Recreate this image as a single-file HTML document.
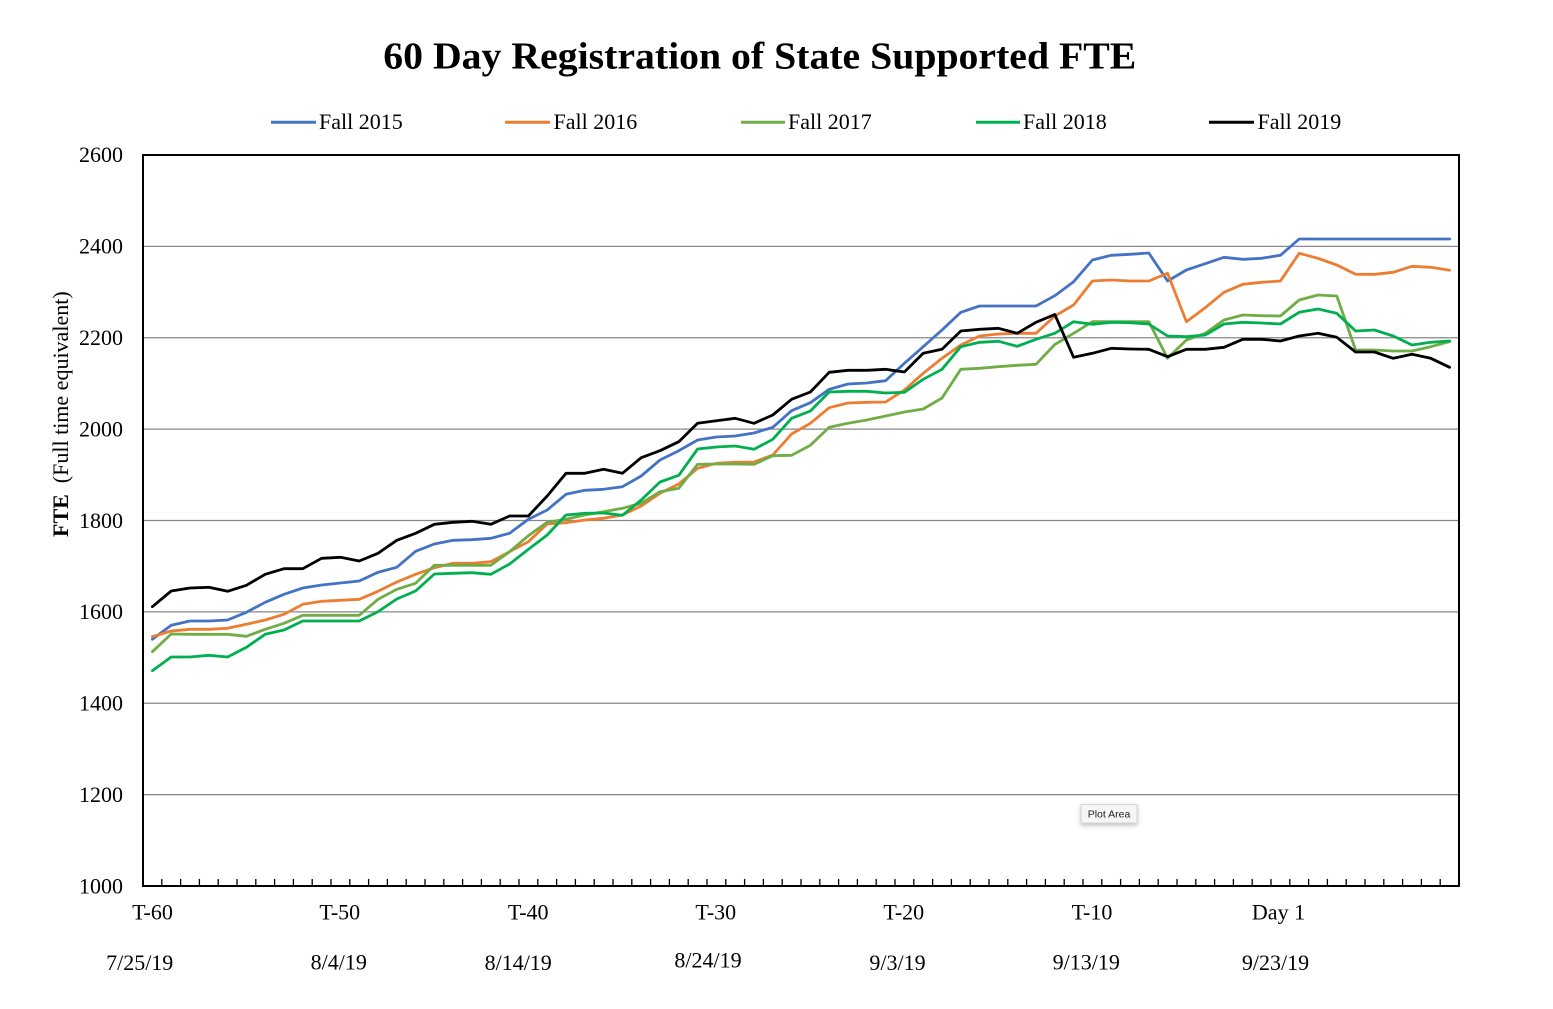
<!DOCTYPE html>
<html>
<head>
<meta charset="utf-8">
<style>
  html,body{margin:0;padding:0;background:#fff;}
  svg{display:block;}
  text{font-family:"Liberation Serif","Times New Roman",serif;fill:#000;}
</style>
</head>
<body>
<svg width="1553" height="1009" viewBox="0 0 1553 1009" xmlns="http://www.w3.org/2000/svg">
  <defs>
    <filter id="sh" x="-30%" y="-50%" width="160%" height="220%">
      <feDropShadow dx="0" dy="2" stdDeviation="2.5" flood-color="#000" flood-opacity="0.25"/>
    </filter>
  </defs>
  <rect x="0" y="0" width="1553" height="1009" fill="#fff"/>

  <!-- Title -->
  <text x="383.3" y="68.3" font-size="38" font-weight="bold" textLength="753" lengthAdjust="spacingAndGlyphs">60 Day Registration of State Supported FTE</text>

  <!-- Legend -->
  <g stroke-width="3">
    <line x1="271" y1="122.3" x2="316" y2="122.3" stroke="#4472C4"/>
    <line x1="505" y1="122.3" x2="550" y2="122.3" stroke="#ED7D31"/>
    <line x1="741" y1="122.3" x2="785" y2="122.3" stroke="#70AD47"/>
    <line x1="976" y1="122.3" x2="1020" y2="122.3" stroke="#00B050"/>
    <line x1="1209" y1="122.3" x2="1254" y2="122.3" stroke="#000"/>
  </g>
  <g font-size="22">
    <text x="319" y="129">Fall 2015</text>
    <text x="553.5" y="129">Fall 2016</text>
    <text x="788" y="129">Fall 2017</text>
    <text x="1023" y="129">Fall 2018</text>
    <text x="1257.5" y="129">Fall 2019</text>
  </g>

  <!-- Gridlines -->
  <g stroke="#878787" stroke-width="1.2">
    <line x1="143" y1="246.4" x2="1459" y2="246.4"/>
    <line x1="143" y1="337.75" x2="1459" y2="337.75"/>
    <line x1="143" y1="429.1" x2="1459" y2="429.1"/>
    <line x1="143" y1="520.5" x2="1459" y2="520.5"/>
    <line x1="143" y1="611.9" x2="1459" y2="611.9"/>
    <line x1="143" y1="703.25" x2="1459" y2="703.25"/>
    <line x1="143" y1="794.6" x2="1459" y2="794.6"/>
  </g>

  <!-- Y labels -->
  <g font-size="22" text-anchor="end">
    <text x="123" y="162">2600</text>
    <text x="123" y="253.7">2400</text>
    <text x="123" y="345">2200</text>
    <text x="123" y="436.4">2000</text>
    <text x="123" y="527.8">1800</text>
    <text x="123" y="619.2">1600</text>
    <text x="123" y="710.5">1400</text>
    <text x="123" y="801.9">1200</text>
    <text x="123" y="893.3">1000</text>
  </g>

  <!-- Y axis title -->
  <text transform="translate(68,537) rotate(-90)" font-size="22" xml:space="preserve"><tspan font-weight="bold">FTE</tspan>  (Full time equivalent)</text>

  <!-- Series -->
  <g fill="none" stroke-width="2.8" stroke-linejoin="round" stroke-linecap="round">
    <polyline stroke="#4472C4" points="152.4,639.3 171.2,625.3 190,621 208.8,621 227.6,620 246.4,612.3 265.2,602.3 284,594.3 302.8,588 321.6,585 340.4,583 359.2,581 378,572.3 396.8,567.3 415.6,551.3 434.4,544 453.2,540.3 472,539.7 490.8,538.3 509.6,533.3 528.4,519.3 547.2,510 566,494.3 584.8,490.3 603.6,489.3 622.4,486.7 641.2,476 660,460 678.8,450.7 697.6,440 716.4,437 735.2,436 754,433 772.8,427.3 791.6,410.7 810.4,402.7 829.2,389.3 848,384 866.8,383 885.6,380.7 904.4,363.3 923.2,346.7 942,330 960.8,312.3 979.6,306 998.4,306 1017.2,306 1036,306 1054.8,295.7 1073.6,281.7 1092.4,260 1111.2,255.3 1130,254.3 1148.8,253 1167.6,281 1186.4,270 1205.2,263.7 1224,257.3 1242.8,259.3 1261.6,258.3 1280.4,255.3 1299.2,239 1318,239 1336.8,239 1355.6,239 1374.4,239 1393.2,239 1412,239 1430.8,239 1449.6,239"/>
    <polyline stroke="#ED7D31" points="152.4,636.7 171.2,631 190,629.3 208.8,629.3 227.6,628.3 246.4,624.3 265.2,620 284,614.3 302.8,604.3 321.6,601.3 340.4,600.3 359.2,599.3 378,591.3 396.8,582 415.6,574.3 434.4,567.7 453.2,563.3 472,563.3 490.8,561.7 509.6,551.7 528.4,541.7 547.2,524 566,522.7 584.8,520 603.6,518.3 622.4,515 641.2,506 660,493.3 678.8,484 697.6,468.3 716.4,463.3 735.2,462.3 754,462 772.8,455 791.6,434 810.4,423.3 829.2,407.7 848,403 866.8,402.3 885.6,402 904.4,390 923.2,373.3 942,358.3 960.8,345 979.6,336 998.4,334 1017.2,333.3 1036,333.3 1054.8,316 1073.6,305 1092.4,281 1111.2,280 1130,281 1148.8,281 1167.6,273.3 1186.4,321.7 1205.2,307.7 1224,292.3 1242.8,284.3 1261.6,282.3 1280.4,281 1299.2,253.3 1318,258.3 1336.8,265 1355.6,274.3 1374.4,274.3 1393.2,272.3 1412,266.3 1430.8,267.3 1449.6,270.3"/>
    <polyline stroke="#70AD47" points="152.4,651.7 171.2,634 190,634.3 208.8,634.3 227.6,634.3 246.4,636.3 265.2,629.3 284,623.3 302.8,615.3 321.6,615.3 340.4,615.3 359.2,615.3 378,599.3 396.8,589.3 415.6,583.3 434.4,565.3 453.2,565.3 472,565.3 490.8,565.3 509.6,551.7 528.4,535.7 547.2,522.3 566,519.3 584.8,515 603.6,511.7 622.4,508.3 641.2,503.3 660,491.7 678.8,488.3 697.6,464.3 716.4,464 735.2,464 754,464.3 772.8,455.7 791.6,455.3 810.4,445.3 829.2,427.3 848,423.3 866.8,420 885.6,416 904.4,412 923.2,409 942,398 960.8,369.3 979.6,368.3 998.4,366.7 1017.2,365.3 1036,364.3 1054.8,344.5 1073.6,333.3 1092.4,321.7 1111.2,321.7 1130,321.7 1148.8,321.7 1167.6,358.3 1186.4,340 1205.2,333.3 1224,320 1242.8,315 1261.6,315.7 1280.4,316 1299.2,300 1318,295 1336.8,296 1355.6,350 1374.4,350 1393.2,351 1412,351 1430.8,346.7 1449.6,341.7"/>
    <polyline stroke="#00B050" points="152.4,670.7 171.2,657 190,657 208.8,655.3 227.6,657 246.4,647.3 265.2,634.3 284,630 302.8,621 321.6,621 340.4,621 359.2,621 378,611.7 396.8,599 415.6,591 434.4,574 453.2,573.3 472,572.7 490.8,574.3 509.6,564 528.4,549.3 547.2,535 566,515 584.8,513.3 603.6,513 622.4,515.3 641.2,500 660,482 678.8,475.3 697.6,449 716.4,447 735.2,446 754,449.3 772.8,439.3 791.6,418.3 810.4,411 829.2,392 848,391.3 866.8,391.3 885.6,393 904.4,392.3 923.2,379.3 942,369.3 960.8,346.7 979.6,342.3 998.4,341.3 1017.2,346.3 1036,339.3 1054.8,333.3 1073.6,321.7 1092.4,324.3 1111.2,322.3 1130,322.7 1148.8,324 1167.6,336 1186.4,336.7 1205.2,335 1224,324 1242.8,322.3 1261.6,323 1280.4,324 1299.2,312.3 1318,309 1336.8,313.3 1355.6,331 1374.4,330 1393.2,336 1412,345 1430.8,342.3 1449.6,341"/>
    <polyline stroke="#000000" points="152.4,606.7 171.2,591 190,588 208.8,587.3 227.6,591.3 246.4,585.3 265.2,574.3 284,568.7 302.8,568.7 321.6,558.3 340.4,557.3 359.2,561 378,553.3 396.8,540.3 415.6,533.3 434.4,524.3 453.2,522.3 472,521.3 490.8,524.3 509.6,516 528.4,516 547.2,496 566,473.3 584.8,473.3 603.6,469.3 622.4,473.3 641.2,457.7 660,450.7 678.8,441.7 697.6,423.3 716.4,420.7 735.2,418.3 754,423.3 772.8,415 791.6,399.3 810.4,392 829.2,372.3 848,370.3 866.8,370.3 885.6,369.3 904.4,372 923.2,353.3 942,349.3 960.8,331 979.6,329.3 998.4,328.3 1017.2,333.3 1036,322.3 1054.8,314.5 1073.6,357.3 1092.4,353.3 1111.2,348.3 1130,349 1148.8,349.3 1167.6,356.7 1186.4,349.3 1205.2,349.3 1224,347.3 1242.8,339.3 1261.6,339.3 1280.4,341 1299.2,336 1318,333.3 1336.8,337.3 1355.6,352 1374.4,352 1393.2,358.3 1412,354.3 1430.8,358.3 1449.6,367.3"/>
  </g>

  <!-- Plot frame -->
  <rect x="143" y="155" width="1316" height="731" fill="none" stroke="#000" stroke-width="2"/>

  <!-- X ticks -->
  <path stroke="#000" stroke-width="1.3" fill="none" d="M161.8 886v-7M180.6 886v-7M199.4 886v-7M218.2 886v-7M237 886v-7M255.8 886v-7M274.6 886v-7M293.4 886v-7M312.2 886v-7M331 886v-7M349.8 886v-7M368.6 886v-7M387.4 886v-7M406.2 886v-7M425 886v-7M443.8 886v-7M462.6 886v-7M481.4 886v-7M500.2 886v-7M519 886v-7M537.8 886v-7M556.6 886v-7M575.4 886v-7M594.2 886v-7M613 886v-7M631.8 886v-7M650.6 886v-7M669.4 886v-7M688.2 886v-7M707 886v-7M725.8 886v-7M744.6 886v-7M763.4 886v-7M782.2 886v-7M801 886v-7M819.8 886v-7M838.6 886v-7M857.4 886v-7M876.2 886v-7M895 886v-7M913.8 886v-7M932.6 886v-7M951.4 886v-7M970.2 886v-7M989 886v-7M1007.8 886v-7M1026.6 886v-7M1045.4 886v-7M1064.2 886v-7M1083 886v-7M1101.8 886v-7M1120.6 886v-7M1139.4 886v-7M1158.2 886v-7M1177 886v-7M1195.8 886v-7M1214.6 886v-7M1233.4 886v-7M1252.2 886v-7M1271 886v-7M1289.8 886v-7M1308.6 886v-7M1327.4 886v-7M1346.2 886v-7M1365 886v-7M1383.8 886v-7M1402.6 886v-7M1421.4 886v-7M1440.2 886v-7"/>

  <!-- X labels -->
  <g font-size="22" text-anchor="middle">
    <text x="152.5" y="919.5">T-60</text>
    <text x="339.8" y="919.5">T-50</text>
    <text x="528.2" y="919.5">T-40</text>
    <text x="715.8" y="919.5">T-30</text>
    <text x="903.8" y="919.5">T-20</text>
    <text x="1092" y="919.5">T-10</text>
    <text x="1278.5" y="919.5">Day 1</text>

    <text x="139.7" y="970">7/25/19</text>
    <text x="338.8" y="969.5">8/4/19</text>
    <text x="518.2" y="970">8/14/19</text>
    <text x="708" y="967.5">8/24/19</text>
    <text x="897.5" y="970">9/3/19</text>
    <text x="1086.3" y="969.5">9/13/19</text>
    <text x="1275.5" y="970">9/23/19</text>
  </g>

  <!-- Plot Area tooltip -->
  <rect x="1081" y="804.5" width="56" height="18.5" fill="#f6f6f6" stroke="#cfcfcf" stroke-width="0.8" filter="url(#sh)"/>
  <text x="1109" y="817.6" font-size="10.5" text-anchor="middle" style="font-family:'Liberation Sans',Arial,sans-serif;fill:#222;">Plot Area</text>
</svg>
</body>
</html>
